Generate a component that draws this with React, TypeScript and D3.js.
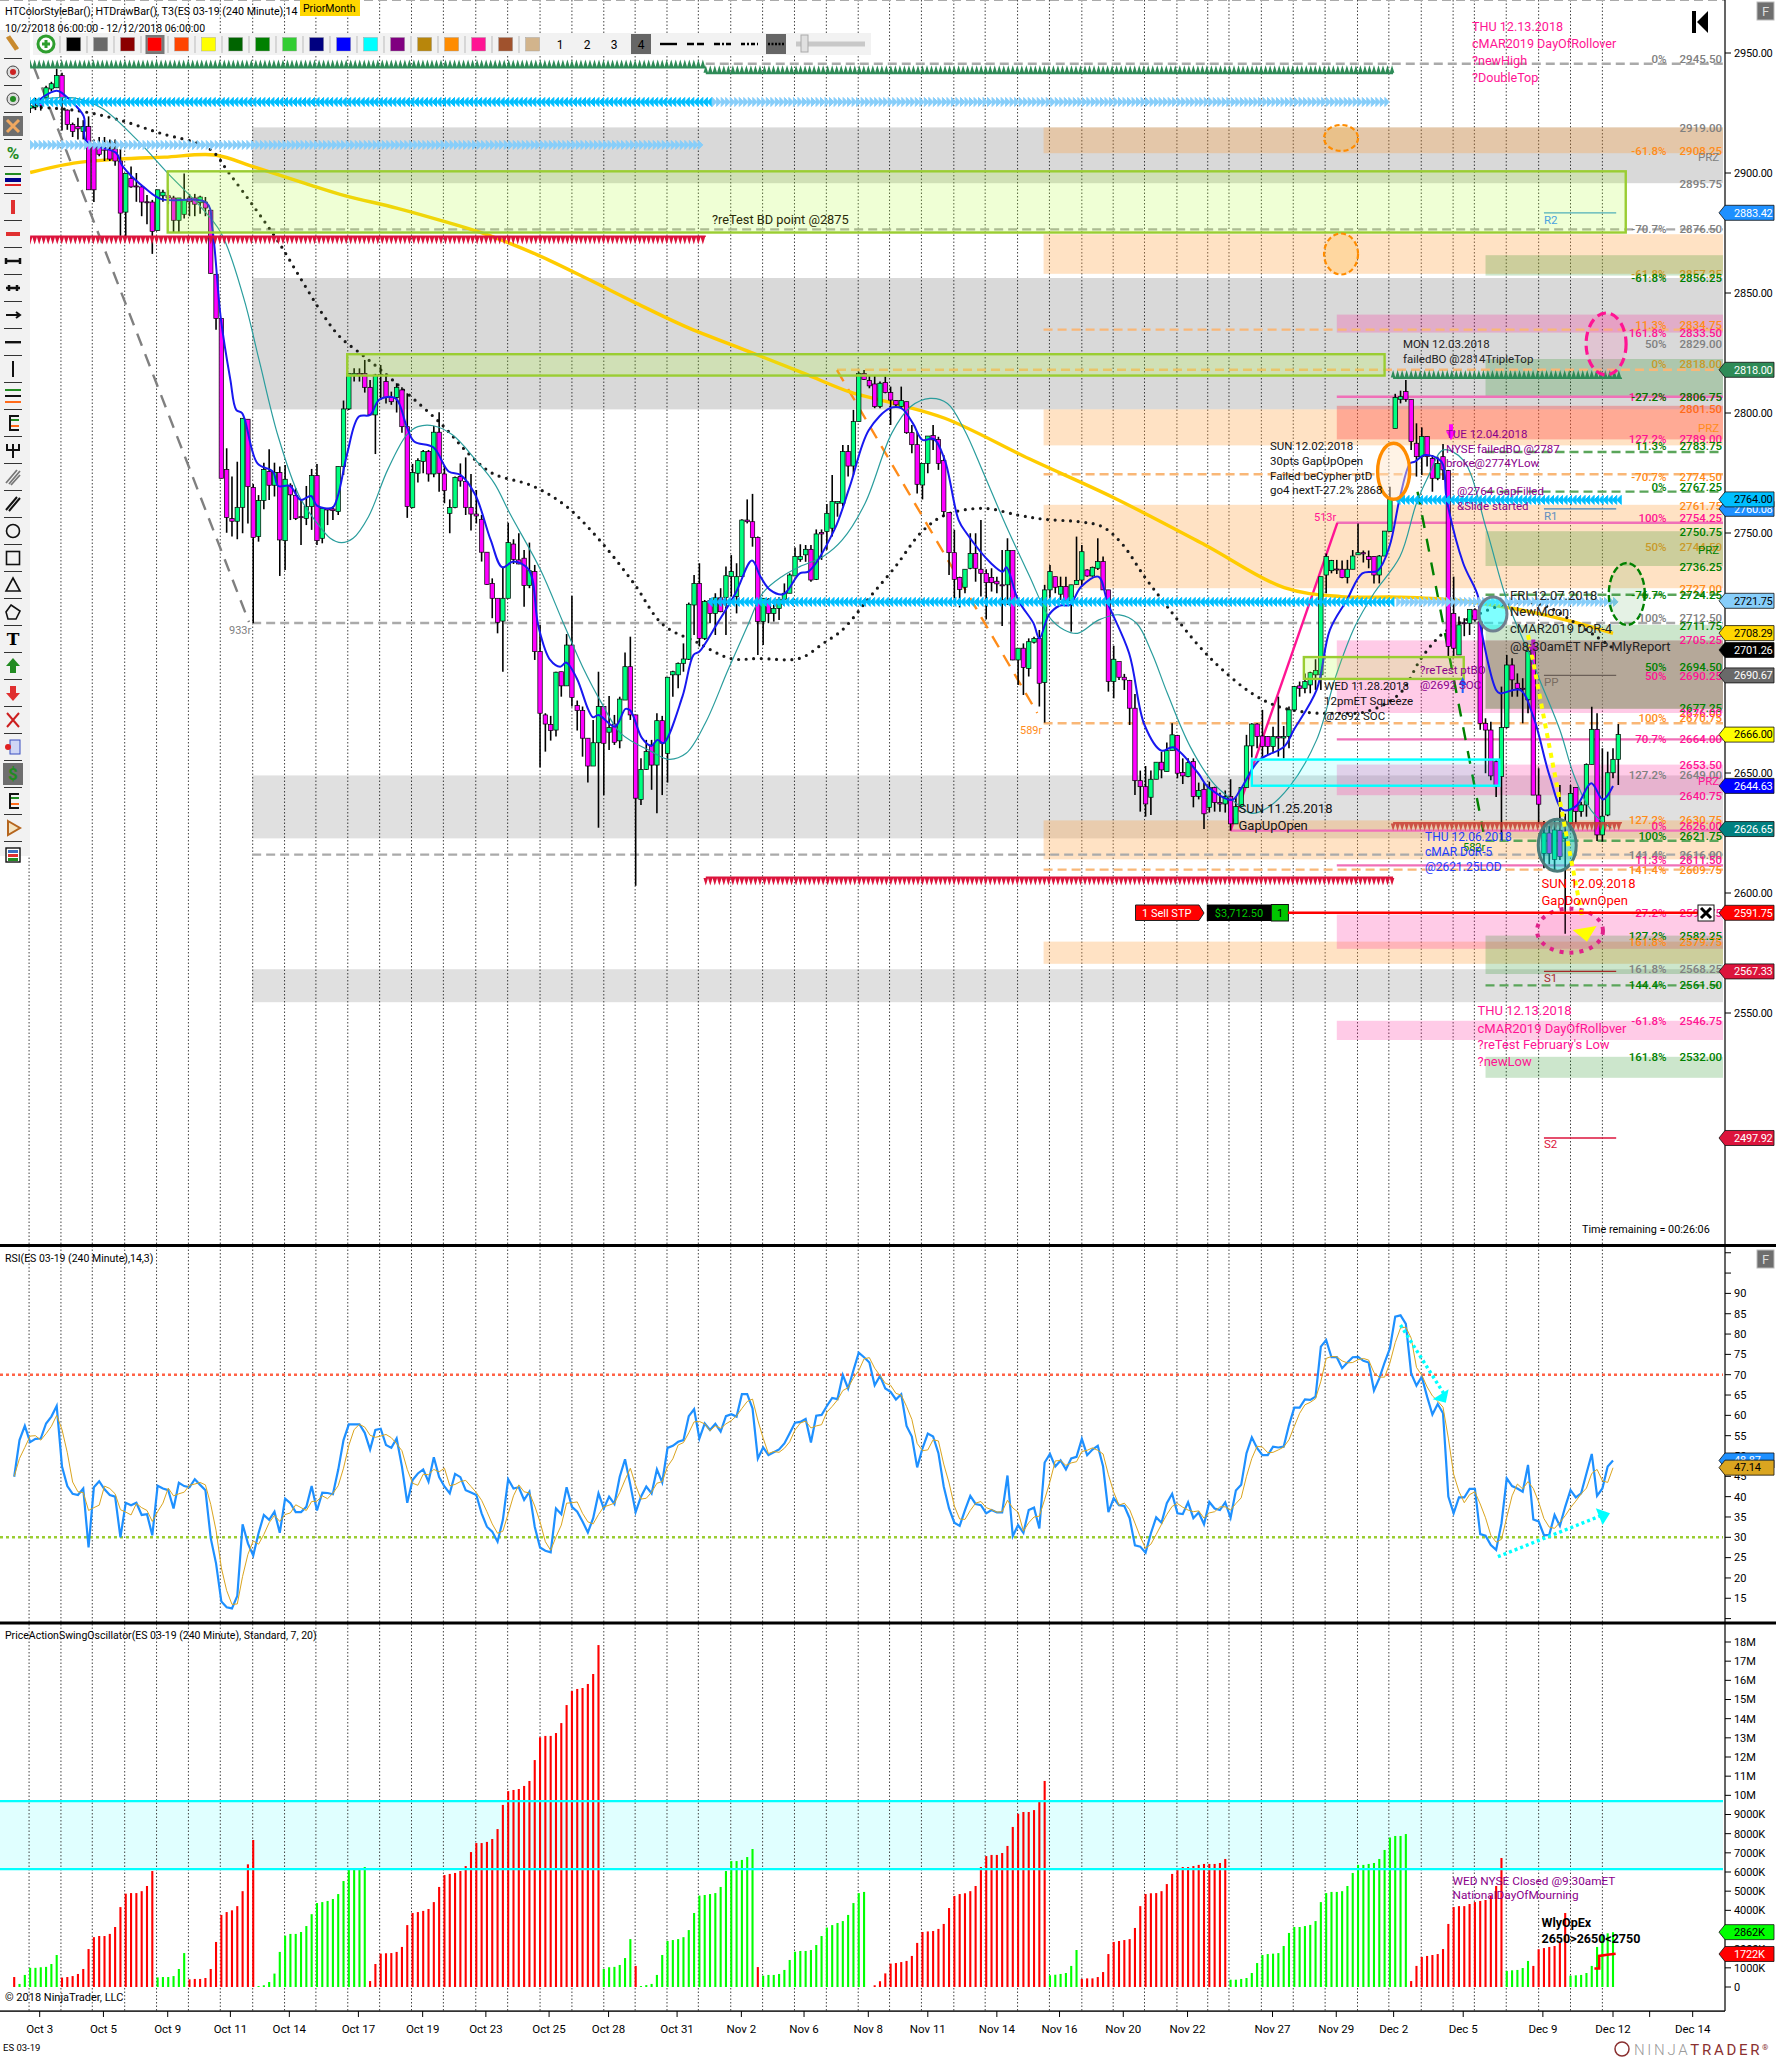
import * as d3 from 'd3';

// ES 03-19, 240 minute bars: [open, high, low, close]
const candlesOct: number[][] = [
  [2924, 2926, 2921, 2925], [2925, 2927, 2922, 2926], [2926, 2929, 2924, 2927], [2927, 2930, 2925, 2928],
  [2927.5, 2931.3, 2926.2, 2928.2], [2929, 2931, 2926, 2928], [2931.3, 2936.4, 2931, 2935.5], [2935, 2938, 2934, 2937.2],
  [2935.5, 2943.5, 2935.5, 2940.6], [2940.6, 2941.8, 2917.7, 2931.3], [2926.2, 2926.5, 2918, 2920.2], [2920.2, 2921, 2915, 2917.3],
  [2919.4, 2923, 2914, 2918.4], [2917.3, 2922, 2914, 2919.4], [2919.4, 2923.6, 2893, 2893], [2910.9, 2914, 2887.9, 2893],
  [2910.9, 2915, 2907, 2907.8], [2910.5, 2915, 2905, 2909.5], [2910, 2914, 2905, 2905.8], [2910, 2914, 2903, 2905],
  [2905, 2910, 2873.8, 2883.3], [2883.7, 2899.8, 2873.5, 2899.8], [2897.8, 2902.7, 2893.9, 2894.2], [2894.6, 2900, 2888, 2894.2],
  [2894.2, 2894.7, 2882, 2887.9], [2888, 2890.8, 2878.6, 2887.8], [2887.9, 2888.8, 2866.3, 2875.7], [2876, 2893, 2876, 2893],
  [2890.5, 2893, 2888, 2892], [2890.5, 2893, 2887, 2889.6], [2889.6, 2890.5, 2875, 2880.3], [2880.3, 2889.6, 2875, 2889.6],
  [2882.8, 2899.8, 2881, 2888.8], [2889.6, 2891.3, 2882, 2888], [2889.6, 2891.3, 2882, 2887], [2887.6, 2890.5, 2883, 2890],
  [2887.9, 2890, 2882, 2885.4], [2884.5, 2884.5, 2858, 2858.2], [2857.8, 2857.8, 2834.7, 2839.4], [2839.4, 2839.4, 2772.8, 2772.8],
  [2776.5, 2785.3, 2750.1, 2756.5], [2756, 2773.5, 2748.5, 2754.9], [2754.9, 2779.7, 2747.4, 2760.7], [2760.7, 2797.8, 2749.9, 2797.8],
  [2797.4, 2797.4, 2754, 2769.3], [2769, 2770.4, 2712.4, 2748.2], [2748.5, 2765.8, 2746.4, 2763.5], [2763.5, 2779.3, 2759.9, 2776.5],
  [2775.6, 2784.9, 2763.8, 2769.9], [2769.9, 2779.3, 2765.2, 2775.2], [2775.2, 2777.7, 2732.1, 2747.1], [2746.8, 2778.3, 2734.6, 2772.4],
  [2769.9, 2770.7, 2755.4, 2765.9], [2765.7, 2768.6, 2755.4, 2756.1], [2756.8, 2763.8, 2745, 2756.5], [2756.1, 2769.6, 2753.3, 2761],
  [2761, 2776.7, 2751.3, 2773.9], [2773.9, 2778.8, 2745, 2746.8], [2747.8, 2760.3, 2745.7, 2760.3], [2760.3, 2760.3, 2753.3, 2759.6],
  [2760, 2761, 2755.4, 2759.3], [2758.9, 2777.7, 2757.5, 2777.7], [2777.7, 2805.2, 2774.2, 2801.7], [2801.7, 2816.5, 2801.3, 2816.5],
  [2815.8, 2818.6, 2813.1, 2816.5], [2816.5, 2818.6, 2813.1, 2815.8], [2816.5, 2822.1, 2808.5, 2810.7], [2810.7, 2813.8, 2799.2, 2799.2],
  [2799.2, 2816.3, 2782.9, 2815.8], [2816, 2820, 2805.4, 2815.8], [2813.1, 2816.5, 2804, 2806.5], [2806.5, 2808.9, 2803.4, 2804.7],
  [2806.5, 2812.4, 2800.2, 2810.7], [2809.6, 2810.7, 2791.8, 2794.3], [2794.3, 2808.2, 2756.3, 2761], [2760.6, 2778.8, 2760.3, 2775.2],
  [2774.9, 2781.1, 2771, 2780.2], [2779.8, 2784.6, 2774.9, 2783.9], [2783.9, 2784.6, 2771.4, 2774.6], [2774.6, 2794.6, 2773.2, 2792],
  [2792, 2800.3, 2767.2, 2774.9], [2774.6, 2777.7, 2762.4, 2767.7], [2758.2, 2764, 2749.9, 2760.6], [2760.6, 2773.5, 2760.3, 2773.2],
  [2773.5, 2779, 2769.3, 2771.7], [2771.4, 2781.5, 2757.5, 2760.7], [2760.7, 2774.6, 2751, 2757.9], [2757.9, 2767.9, 2754, 2757.1],
  [2755.7, 2757.5, 2738.1, 2742], [2742, 2742, 2728.4, 2728.6], [2729, 2731.1, 2714.5, 2722.8], [2722.8, 2722.8, 2708.2, 2712.8],
  [2713.3, 2736, 2692.2, 2722.8], [2722.8, 2754.3, 2722.8, 2746], [2745.4, 2747.4, 2737.1, 2739], [2738.8, 2749.9, 2737, 2737.1],
  [2739.5, 2742.9, 2719.3, 2728.1], [2728.1, 2746, 2727, 2734.3], [2733.9, 2736.7, 2697.1, 2700.6], [2700.6, 2711.7, 2652.4, 2674.9],
  [2674.2, 2674.9, 2658.9, 2670.4], [2670.2, 2673.8, 2663.5, 2667.7], [2667.9, 2692.2, 2665.2, 2692], [2692.2, 2692.2, 2681.8, 2686.3],
  [2686.3, 2707.9, 2686.3, 2703.3], [2703.3, 2723.8, 2677.7, 2681.5], [2678.1, 2680.2, 2667.7, 2676], [2676, 2677.7, 2656.8, 2664.5],
  [2664.5, 2664.5, 2646, 2652.9], [2652.9, 2672.1, 2652.9, 2662.6], [2662.6, 2692.2, 2627.2, 2677.7], [2677.7, 2677.7, 2640.8, 2662.4],
  [2667, 2682.1, 2659.6, 2668.9], [2670.4, 2674.2, 2661.7, 2662.8], [2663.4, 2681.8, 2660.3, 2680.8], [2680.4, 2700.2, 2680.4, 2694.3],
  [2694.3, 2706.8, 2672.1, 2674.2], [2674.2, 2674.2, 2603, 2639.5], [2639, 2656.1, 2636.7, 2651.5], [2651.5, 2663.8, 2651.3, 2658.9],
  [2661.7, 2663.8, 2643, 2653.3], [2653.3, 2674.9, 2633.2, 2671.8], [2671.8, 2673.8, 2640.8, 2662.4], [2658.2, 2689.9, 2646, 2689.9],
  [2690.9, 2692.6, 2681.8, 2692.2], [2690.9, 2696, 2685.3, 2695.7], [2695.7, 2704, 2692.2, 2697.5], [2697.4, 2721, 2697.1, 2720.3],
];

const candlesNov: number[][] = [
  [2720, 2732.5, 2707.5, 2729], [2729, 2737.4, 2702.7, 2706.1], [2706.1, 2722.1, 2705.4, 2721.4], [2721.8, 2722.8, 2712.4, 2716.5],
  [2716.5, 2724.9, 2707.5, 2723], [2723, 2727, 2717, 2717.2], [2723.2, 2736, 2707.5, 2732.2], [2731.8, 2740.8, 2723.5, 2733.9],
  [2723.5, 2737.4, 2716.5, 2731.8], [2731.8, 2755.7, 2731.8, 2755.4], [2755.4, 2764, 2754, 2754.7], [2754.7, 2766.3, 2744.3, 2748.1],
  [2748.1, 2748.5, 2699.2, 2713.1], [2713.1, 2722.8, 2703.3, 2722.8], [2722.4, 2722.8, 2712.4, 2716.5], [2716.5, 2720, 2713.1, 2718.6],
  [2718.6, 2723.2, 2713.8, 2722.4], [2722.4, 2729, 2722.4, 2724.9], [2724.9, 2733.2, 2724.9, 2732.5], [2732.1, 2744, 2732.1, 2740.2],
  [2739, 2745.3, 2738, 2740.2], [2740.9, 2745, 2738, 2743.2], [2743.2, 2745, 2729.7, 2730.4], [2730.7, 2751.5, 2730.4, 2749.6],
  [2750.2, 2751.5, 2738.8, 2749.6], [2750.6, 2762.1, 2743, 2758.2], [2752, 2774.2, 2748.5, 2763.1], [2762.4, 2763.1, 2756.8, 2763.1],
  [2762.4, 2786.7, 2761, 2783.9], [2783.9, 2786.7, 2773.5, 2777.9], [2777.9, 2801.3, 2774.2, 2796.4], [2796.4, 2817.2, 2796.4, 2816.5],
  [2816.5, 2817.9, 2813.8, 2814], [2813.5, 2815.8, 2810.3, 2811.3], [2812.1, 2815.8, 2802, 2802.7], [2802.7, 2813.1, 2802, 2812.4],
  [2812.7, 2815.2, 2808.2, 2808.5], [2808.5, 2811, 2795, 2805.4], [2805.2, 2805.4, 2802.7, 2803.4], [2802.7, 2811, 2802, 2805.2],
  [2804.7, 2804.7, 2791.3, 2791.8], [2791.8, 2795, 2783.2, 2786.8], [2786.8, 2792.2, 2766.5, 2770.3], [2770, 2779, 2764, 2779],
  [2779, 2790.4, 2774.9, 2790.4], [2790.6, 2795, 2784.6, 2788.8], [2789, 2790.1, 2776.3, 2779], [2780.2, 2782.5, 2756.8, 2758.9],
  [2758.5, 2758.5, 2732.5, 2741.8], [2741.8, 2751.3, 2722.8, 2730.7], [2731.5, 2731.8, 2719, 2726.5], [2727.4, 2734.9, 2724.9, 2734.9],
  [2735.3, 2749.9, 2734.9, 2741.5], [2741.5, 2749.9, 2729.7, 2735.3], [2734.9, 2755.4, 2723.5, 2733.2], [2733.2, 2734.9, 2714, 2729.3],
  [2731.5, 2735.3, 2725.6, 2729.3], [2729.9, 2731.8, 2724.9, 2728.8], [2728.4, 2742.9, 2711.3, 2728], [2728.4, 2747.8, 2720, 2742.7],
  [2742.7, 2742.7, 2697, 2697.1], [2697.1, 2702, 2686.7, 2702], [2702, 2704, 2682.5, 2694], [2693.6, 2706.1, 2690.2, 2704.7],
  [2704.5, 2706.8, 2704, 2706.1], [2706.1, 2709.6, 2677.7, 2687.4], [2687.7, 2728.4, 2671, 2726.3], [2726.3, 2736.7, 2722.8, 2733.9],
  [2731.8, 2731.8, 2724.9, 2727.4], [2724.5, 2731.8, 2722.1, 2727.7], [2727.7, 2731.8, 2721.4, 2721.8], [2721.8, 2728.4, 2708.9, 2728.4],
  [2728.6, 2748.5, 2728.6, 2730.2], [2730.4, 2745, 2727.7, 2742.2], [2734.6, 2734.9, 2731.8, 2732.1], [2732.1, 2736, 2731.8, 2735.7],
  [2735.3, 2747.8, 2734.6, 2738.1], [2738.1, 2740.2, 2726.3, 2726.3], [2726.3, 2726.3, 2683.9, 2688.1], [2688.1, 2703, 2681.1, 2697.4],
  [2696.4, 2696.4, 2688.8, 2689.9], [2689.9, 2691.3, 2684.6, 2688.8], [2688.5, 2688.8, 2670, 2677], [2677, 2682.9, 2640.8, 2646.8],
  [2646.8, 2651, 2633.9, 2644.3], [2644.3, 2652.9, 2631.8, 2637.1], [2639.9, 2651, 2632.5, 2647.4], [2647.4, 2654.5, 2647.4, 2654.5],
  [2654.5, 2658.9, 2647.8, 2651.3], [2650.6, 2662.7, 2650.6, 2659.3], [2659.3, 2670.7, 2659.3, 2665.9], [2665.6, 2665.9, 2647.8, 2649.9],
  [2650.2, 2656.1, 2645.4, 2648.8], [2648.5, 2656.1, 2648.2, 2654.3], [2654.8, 2656.1, 2635.7, 2640.2], [2640.2, 2646, 2639, 2642.7],
  [2643.2, 2646, 2626.7, 2633], [2635.7, 2646.4, 2633.5, 2644], [2644, 2644.3, 2633.9, 2637.7], [2637.7, 2641.8, 2633.9, 2637.1],
  [2637.1, 2642.7, 2633.5, 2640.2], [2640.2, 2647.4, 2626, 2628.8],
];

const candlesDec: number[][] = [
  [2628.8, 2640.2, 2628.8, 2636], [2636, 2643.9, 2636, 2643.9], [2643.9, 2665.9, 2643.9, 2661.3], [2661.3, 2670.7, 2656.5, 2670.4],
  [2670.4, 2670.7, 2660.3, 2665.2], [2665.4, 2676.3, 2656.8, 2661], [2665.2, 2665.4, 2657.5, 2661], [2661, 2669.3, 2658.2, 2665.2],
  [2665.2, 2681.8, 2656.8, 2664.6], [2664.6, 2669.6, 2656.1, 2665.2], [2665.2, 2677.7, 2660.3, 2676.3], [2676.3, 2686.3, 2676, 2686],
  [2686.3, 2688.1, 2681.8, 2685.3], [2685.3, 2691.5, 2683.2, 2688.1], [2686.7, 2692.2, 2683.2, 2691.8], [2690.9, 2697.4, 2684.6, 2692.7],
  [2690.9, 2731.8, 2684.6, 2731.8], [2732.5, 2741.5, 2724.9, 2740.2], [2734.3, 2738.8, 2733.2, 2738.5], [2735, 2738.8, 2732.9, 2734.7],
  [2734.9, 2738.5, 2731.1, 2731.5], [2731.5, 2738.8, 2729, 2734.9], [2734.9, 2742.9, 2734.9, 2740.4], [2740.9, 2754, 2740.8, 2741.8],
  [2741.8, 2742.7, 2737.7, 2741.3], [2740.2, 2742.7, 2735.3, 2739], [2740.2, 2740.2, 2729, 2732.5], [2732.5, 2740.8, 2729, 2740.4],
  [2740.4, 2750.8, 2740.4, 2750.8], [2750.6, 2769.3, 2750.6, 2764], [2793.6, 2808, 2793.6, 2806.5], [2805.7, 2809.3, 2804, 2806.8],
  [2808.9, 2813.8, 2804.7, 2805.7], [2805.7, 2805.7, 2784.6, 2788.1], [2787.4, 2795.7, 2773.5, 2781.8], [2781.8, 2794, 2774.2, 2790.2],
  [2790.2, 2790.2, 2777.7, 2781.8], [2781.1, 2782.5, 2767.2, 2772.8], [2772.8, 2781.8, 2772, 2779], [2781.8, 2787.1, 2772.1, 2776.3],
  [2776, 2776.3, 2698.5, 2702.7], [2716.5, 2731.8, 2698.5, 2702], [2699.2, 2715.2, 2699.2, 2711.7], [2712.6, 2714.5, 2707, 2712.4],
  [2712.4, 2718.2, 2707.5, 2718.2], [2718, 2718.6, 2713, 2713.8], [2713, 2713, 2668, 2670.7], [2670.7, 2672.8, 2649.9, 2667.9],
  [2667.9, 2671.4, 2647, 2648.8], [2654.7, 2655.4, 2640, 2644.3], [2648.5, 2686, 2622, 2668.9], [2669, 2699.2, 2668.6, 2695],
  [2695, 2697.8, 2681.8, 2688.8], [2687.4, 2691.5, 2681.8, 2685.3], [2685.3, 2689.5, 2670.7, 2684.9], [2680.5, 2702.7, 2674.9, 2700.6],
  [2700.6, 2705, 2640.8, 2640.8], [2640.8, 2652, 2629, 2637], [2616.5, 2630, 2610.3, 2625], [2625, 2628, 2612, 2616.5],
  [2614, 2631, 2609.6, 2626.25], [2626, 2645, 2613.75, 2615.2], [2622.7, 2633, 2583, 2625], [2629, 2645, 2626, 2641.5],
  [2644, 2644, 2629, 2634], [2634, 2638, 2631.8, 2636.7], [2636.7, 2654, 2631.8, 2653.6], [2653.6, 2677.6, 2653.6, 2668.2],
  [2668.2, 2674.9, 2621.7, 2624.2], [2624.2, 2660.3, 2621.4, 2632], [2632.5, 2658.9, 2632, 2650.1], [2650.1, 2660.3, 2647.8, 2655.7],
  [2655.7, 2670.4, 2645, 2666.1],
];

const rsiValues = [
  44.9, 53.9, 57.4, 53.4, 54.2, 54.3, 58, 59.7, 62.3, 47.4, 42.6, 40.7, 40.4, 42, 27.5, 42.3, 43.8, 41.8, 40.4, 40,
  30, 38.5, 37.9, 38.5, 35.5, 35.7, 30.5, 42.7, 42, 41.6, 37.1, 43.4, 42.6, 42.3, 44.3, 42.9, 41.6, 29.8, 23.6, 14.2,
  12.8, 12.5, 15.6, 33.2, 28.5, 25.5, 31, 35.5, 34.3, 36.3, 31.1, 39.5, 38.4, 36.2, 36.2, 37.5, 42.6, 36.6, 41, 40.9,
  40.6, 46.6, 53.9, 57.8, 57.8, 57.8, 55.7, 51.6, 56.4, 56.7, 52.7, 52, 54.3, 47.4, 38.5, 44.1, 45.7, 46.7, 43.7, 49.7,
  44.8, 42.5, 40.8, 45.6, 44.8, 41.6, 41, 40.4, 35.9, 32.6, 31.4, 28.9, 34.3, 44.3, 42, 42.3, 39.2, 41.2, 32.6, 27.5,
  26.7, 26.3, 37.1, 35.7, 42.3, 37.5, 36.3, 33.9, 31.2, 34.7, 40.8, 37.1, 40, 38.2, 44.9, 49.2, 42.9, 36.2, 40, 42.5,
  40.8, 46.7, 43.5, 52, 52.5, 53.5, 53.9, 59.8, 61.5, 54.3, 58, 56.4, 57.9, 56, 59.8, 60.3, 59.7, 65.2, 65.2, 61.7,
  49.4, 52.1, 50.2, 50.9, 51.6, 53.1, 55.6, 58.2, 58.4, 59.1, 53.3, 59.9, 60.1, 62.3, 64.3, 64, 69.9, 66.6, 71.1, 75.4,
  74.3, 73, 67.4, 69.7, 66.6,
  65.8, 63.9, 65.2, 57.4, 54.8, 47.2, 51.9, 55.5, 54.8, 50.7, 42.5, 37.1, 33.6, 32.8, 36.7, 40.2, 38.2, 37.9, 35.9, 36.7,
  36.1, 36.1, 45.2, 30.3, 33, 31.1, 36.7, 37.3, 32.2, 48.4, 50.5, 47.4, 48.9, 46.7, 49.4, 49.8, 54.2, 50.2, 51.6, 52.5,
  47.4, 36.2, 39.6, 37.9, 37.7, 34.7, 28, 27.7, 26.2, 31, 34.9, 33.6, 38.4, 40.7, 35.9, 35.7, 38.6, 34.7, 36.1, 33.2,
  38.7, 37.1, 36.7, 38.6, 34.8, 41.5, 42.9, 50.7, 54.6, 51.9, 50.2, 50.2, 52.3, 52.1, 52.3, 57.6, 61.9, 61.9, 63.9, 63.8,
  64.6, 76.9, 78.5, 74.3, 74.3, 71.6, 73, 74.3, 74.4, 73.4, 73, 66.1, 69.1, 73, 76.5, 84.3, 84.6, 82.5, 70.3, 67.3,
  69.5, 64.6, 60.2, 62.8, 60.5, 40, 35.9, 39.8, 39.8, 41.9, 41.9, 30.8, 30.4, 28.1, 26.9, 33.4, 44.5, 42.6, 42, 41.2,
  47.8, 34.4, 33.9, 30.5, 30.6, 35.5, 32.8, 37.5, 41.6, 39.8, 40.8, 45.7, 50.5, 40.2, 42, 47.4, 48.9,
];

const rsiSignal = [
  45, 49.4, 52.1, 54.9, 55, 53.9, 55.5, 57.3, 60, 56.5, 50.8, 43.6, 41.2, 41, 36.6, 37.3, 37.9, 42.6, 42, 40.7,
  36.8, 36.2, 35.5, 38.3, 37.3, 36.6, 33.9, 36.3, 38.4, 42.1, 40.2, 40.7, 41.1, 42.8, 43.1, 43.5, 42.9, 38.1, 31.7, 22.5,
  16.9, 13.5, 13.6, 20.4, 25.8, 29.1, 28.3, 30.7, 33.6, 35.4, 33.9, 35.6, 36, 38, 37.3, 36.6, 38.8, 38.9, 40.2, 39.5,
  40.8, 42.7, 47, 52.6, 56.5, 57.8, 57.1, 55.1, 54.6, 54.9, 55.3, 54.5, 53, 51.3, 46.7, 43.3, 42.8, 45.5, 45.4, 46.7,
  46.1, 47, 42.7, 43, 43.7, 44, 42.5, 41, 39.1, 36.3, 33.3, 31, 31.5, 35.8, 40.2, 42.9, 41.2, 40.9, 37.7, 33.8,
  28.9, 26.8, 30.1, 33, 38.4, 38.5, 38.7, 35.9, 33.8, 33.3, 35.6, 37.5, 37.9, 38.4, 41, 44.1, 47, 42.8, 39.4, 39.6,
  41.1, 43.3, 43.7, 47.4, 49.3, 52.7, 53.3, 55.7, 58.4, 58.5, 57.9, 56.2, 57.4, 56.8, 57.9, 58.7, 59.9, 61.7, 63.4, 64,
  58.8, 54.4, 50.6, 51.1, 50.9, 51.9, 53.5, 56.4, 58.1, 58.6, 56.9, 57.4, 57.7, 60.8, 62.2, 63.8, 66.1, 66.8, 69.2, 71,
  73.9, 74.2, 71.6, 69.8, 67.9,
  67.4, 65.4, 65, 62.2, 59, 53.1, 51.3, 51.5, 54, 53.7, 48, 43.4, 37.7, 34.5, 34.4, 36.6, 38.4, 38.8, 37.3, 36.8,
  36.2, 36.3, 39.1, 37.2, 36.2, 31.5, 33.6, 35, 35.2, 39.3, 43.7, 48.8, 48.9, 47.7, 48.3, 48.6, 51.1, 51.4, 52, 51.4,
  50.5, 45.4, 41.1, 37.9, 38.4, 36.8, 33.5, 30.1, 27.3, 28.3, 30.7, 33.2, 35.6, 37.6, 38.3, 37.4, 36.7, 36.3, 36.5, 34.7,
  36, 36.3, 37.5, 37.5, 36.7, 38.3, 39.7, 45, 49.4, 52.4, 52.2, 50.8, 50.9, 51.5, 52.2, 54, 57.3, 60.5, 62.6, 63.2,
  64.1, 68.4, 74, 74.5, 74.4, 73.4, 72.9, 73, 73.7, 74, 73.6, 70.5, 69.4, 69.4, 72.9, 77.9, 81.5, 81.7, 79, 71.8,
  69.9, 67, 64.8, 63.5, 62, 54.4, 45.5, 41.3, 38.5, 40.5, 41.2, 38.2, 34.8, 30.5, 28.8, 29.5, 34.9, 40.2, 43.1, 41.9,
  43.7, 42, 38.7, 34.6, 32.5, 32.2, 33.7, 35.3, 37.3, 38.9, 40.7, 42.1, 45.7, 46.7, 43.9, 43.5, 47.1,
];

// swing oscillator in millions, positive = green bar, negative = red bar
const swingValues = [
  -0.52, 0.16, 0.63, 1, 1, 1.03, 1.05, 1.2, 1.67, -0.49, -0.52, -0.57, -0.68, -0.94, -1.98, -2.6, -2.66, -2.66, -2.77, -3.13,
  -4.17, -4.87, -4.9, -4.9, -5, -5.27, -6.05, 0.5, 0.52, 0.52, 0.57, 0.94, 1.77, -0.4, -0.42, -0.42, -0.47, -0.94, -2.35, -3.76,
  -3.91, -4, -4.22, -5, -6.4, -7.67, 0.05, 0.09, 0.26, 0.7, 1.83, 2.68, 2.77, 2.77, 2.87, 3.18, 3.8, 4.38, 4.43, 4.49,
  4.59, 4.85, 5.53, 6.16, 6.19, 6.2, 6.26, -0.31, -1.2, -1.74, -1.76, -1.77, -1.83, -2.09, -3.23, -3.86, -3.91, -3.97, -4.07, -4.43,
  -5.22, -5.84, -5.9, -5.95, -6.05, -6.31, -7.04, -7.51, -7.51, -7.57, -7.72, -8.24, -9.5, -10.22, -10.28, -10.33, -10.49, -10.75, -11.84, -13.03,
  -13.1, -13.1, -13.25, -13.77, -14.71, -15.44, -15.55, -15.6, -15.81, -16.33, -17.84, 0.94, 1.03, 1.05, 1.15, 1.51, 2.5, -1.1, 0.05, 0.1,
  0.16, 0.63, 1.67, 2.4, 2.45, 2.5, 2.6, 2.97, 3.86, 4.77, 4.8, 4.85, 4.9, 5.22, 6.05, 6.57, 6.57, 6.63, 6.78, 7.2,
  -1.04, 0.59, 0.63, 0.63, 0.68, 0.89, 1.41, 1.84, 1.88, 1.88, 1.93, 2.19, 2.66, 3.1, 3.23, 3.34, 3.44, 3.76, 4.38, 4.9,
  4.96, 0, -0.09, -0.3, -0.71,
  -1.22, -1.25, -1.3, -1.36, -1.62, -2.3, -2.87, -2.9, -2.92, -3.03, -3.29, -4.12, -4.75, -4.85, -4.89, -5, -5.27, -6.26, -6.83, -6.89,
  -6.89, -6.99, -7.36, -8.35, -9.04, -9.13, -9.13, -9.23, -9.67, -10.75, 0.61, 0.64, 0.68, 0.73, 1.1, 1.93, -0.42, -0.45, -0.45, -0.52,
  -0.78, -1.72, -2.35, -2.4, -2.45, -2.5, -3.08, -4.22, -4.85, -4.89, -4.9, -5, -5.37, -5.9, -6.1, -6.26, -6.26, -6.31, -6.37, -6.42,
  -6.42, -6.42, -6.47, -6.68, 0.38, 0.38, 0.42, 0.47, 0.73, 1.25, 1.67, 1.72, 1.74, 1.77, 2.14, 2.82, 3.13, 3.13, 3.18, 3.24,
  3.44, 4.43, 4.9, 4.96, 4.96, 5, 5.27, 5.95, 6.37, 6.37, 6.42, 6.47, 6.68, 7.15, 7.8, 7.88, 7.88, 7.98, -0.31, -1.1,
  -1.57, -1.62, -1.67, -1.72, -1.98, -3.29, -4.17, -4.22, -4.22, -4.33, -4.43, -4.49, -4.54, -4.75, -5.27, -6.73, 0.84, 0.87, 0.89, 0.99,
  1.36, -1.1, -1.97, -2.03, -2.09, -2.14, -2.3, -3.86, 0.59, 0.61, 0.63, 0.73, 1.1, 2.09, 2.71, 2.8, 2.86,
];

// indicator vertices as [bar, price]
const t3Line: [number, number][] = [
  [3.7, 2928.7], [8, 2934.3], [10.7, 2929.9], [13.1, 2923.6], [13.5, 2913.4], [19.2, 2908.3], [20.3, 2903.2], [25, 2893], [27.7, 2889.1],
  [36.2, 2887.6], [37.3, 2876.9], [38.9, 2839.4], [40.7, 2813.8], [41.8, 2801.3], [42.9, 2799.9], [45.8, 2779], [48.7, 2775.6], [49.7, 2769.6],
  [51.9, 2769.6], [53.9, 2763.8], [55.9, 2765.4], [57, 2761.4], [59.9, 2760.6], [60.9, 2765.2], [62.7, 2783.2], [64.9, 2798.5], [67, 2799.2],
  [68.8, 2805.7], [71.8, 2806.1], [73.9, 2794.3], [75.3, 2788.1], [78.9, 2785.7], [81.8, 2775.6], [84, 2774.2], [86.8, 2765.9], [89.7, 2747.1],
  [91.9, 2735.7], [94, 2738.1], [96.9, 2734.6], [98.7, 2711], [100.9, 2697.1], [102.8, 2694.3], [103.9, 2696], [105.9, 2689.5], [108.1, 2676.3],
  [109, 2673.2], [110, 2674.2], [113.1, 2669.3], [115.1, 2676.7], [116, 2676], [118.2, 2664.5], [119.9, 2661.3], [121.1, 2663.8], [122.2, 2662.4],
  [125.8, 2681.8], [127.9, 2699.2], [129, 2700.6], [132.2, 2711.7], [135.8, 2724.9], [138.9, 2738.5], [140.5, 2731.8], [142.3, 2726.3], [144.8, 2724.5],
  [147.9, 2733.2], [149.5, 2733.9], [154.4, 2751.3], [157.3, 2769.3], [160.9, 2792.9], [164.9, 2802], [167, 2802], [169.2, 2795.7], [171, 2788.8],
  [173.1, 2789.2], [175.2, 2780.4], [177.8, 2755.4], [179.3, 2749.9], [183.9, 2737.4], [186.1, 2733.9], [186.8, 2735.7], [189, 2722.1], [191.9, 2712.4],
  [193, 2706.1], [194.8, 2715.9], [196.9, 2719.8], [198.7, 2720], [200.9, 2727.7], [204.1, 2731.8], [205.9, 2720.7], [209.9, 2699.9], [212.8, 2670],
  [216, 2659.3], [218.2, 2660.7], [222.9, 2649.9], [224.7, 2644.3], [229.3, 2638.8], [230.8, 2642.9], [234.4, 2655.4], [239.1, 2661], [240.9, 2667.9],
  [245.2, 2684.6], [247.7, 2709.6], [250.9, 2722.1], [253.8, 2733.2], [256.7, 2734.3], [258.9, 2744.3], [260.9, 2765], [262.8, 2779], [263.7, 2779.7],
  [265.6, 2782.5], [268.7, 2779.7], [269.7, 2763.8], [272.8, 2737.4], [275.6, 2723.5], [275.9, 2713.8], [279, 2684.6], [279.7, 2683.2], [283.5, 2684.6],
  [286, 2673.5], [289.1, 2648.5], [291.6, 2634.6], [294.1, 2636.3], [296.9, 2645.7], [299.1, 2639], [301, 2644.6],
];
const tealLine: [number, number][] = [
  [3.7, 2930.4], [11.2, 2931.3], [16.5, 2927], [22.9, 2914.3], [29.3, 2899], [34.6, 2887.1], [38.9, 2875.2], [43.2, 2848], [46.1, 2822.1],
  [49.7, 2790.2], [53.7, 2765.2], [56.6, 2755.4], [59.5, 2747.8], [61.6, 2746], [63.8, 2747.8], [66.7, 2756.8], [70.3, 2776.3], [73.9, 2790.9],
  [76, 2794.3], [78.9, 2794.7], [82.5, 2790.9], [86.9, 2780.4], [90.4, 2770.7], [93.3, 2758.2], [99.1, 2734.6], [103.4, 2712.4], [107, 2694.3],
  [110.6, 2679.1], [114.2, 2666.5], [120, 2658.9], [123.2, 2655.7], [126.5, 2658.2], [130.1, 2670.7], [134.4, 2693], [138, 2711], [140.9, 2724.9],
  [144.5, 2731.8], [147.9, 2736], [152.3, 2740.2], [155.9, 2747.1], [160.2, 2762.4], [165.2, 2791.5], [168.8, 2802.7], [172.4, 2806.1], [175.7, 2804],
  [178.9, 2792.9], [182.5, 2774.9], [186.8, 2752.7], [191.2, 2731.8], [194.8, 2715.2], [197.7, 2709.6], [200.2, 2708.2], [204.2, 2713.8], [208.1, 2715.9],
  [211.3, 2712.4], [214.2, 2699.9], [217.1, 2683.2], [221.4, 2661], [225.8, 2645.7], [229.3, 2638.8], [232.9, 2633.2], [235.8, 2635.3], [240.1, 2644.3],
  [245.2, 2663.8], [248.8, 2690.2], [252.4, 2711], [256, 2724.9], [260.9, 2740.2], [264, 2762.4], [266.5, 2774.9], [269, 2784.6], [272.8, 2780.4],
  [277.2, 2751.3], [281, 2722.1], [286, 2695.7], [287.2, 2688.75], [291, 2667.9], [293.5, 2649.9], [296, 2637.4], [297.9, 2631.8], [300.7, 2627],
];
const goldLine: [number, number][] = [
  [3, 2900.2], [11.2, 2904.1], [19.7, 2905.8], [28.3, 2906.6], [37.8, 2907.5], [45.3, 2902.4], [54.9, 2895.6], [62.4, 2890.5], [72, 2885.4], [81.6, 2879.4],
  [89, 2874.3], [98.6, 2865.8], [108.2, 2855.6], [116.7, 2846.2], [126.3, 2836.1], [138.1, 2825.8], [148.7, 2816.5], [157.3, 2808.8], [164.5, 2804.6],
  [175.2, 2797.8], [191.2, 2780.8], [207.1, 2764.6], [224.2, 2745], [239.1, 2727.2], [249.8, 2723.5], [260.4, 2723.3], [271.1, 2722.1], [281.8, 2718.7],
  [292.4, 2713.6], [301, 2708.2],
];
const dottedLine: [number, number][] = [
  [3.7, 2927.5], [11.2, 2926.2], [18.7, 2922.8], [27.2, 2916.8], [36.8, 2910], [40.5, 2899.8], [45.3, 2885.4], [49.6, 2871.8], [53.8, 2856.5], [58.1, 2841.1],
  [61.3, 2831.8], [65.6, 2824.1], [69.8, 2816.5], [74.1, 2808], [80.5, 2795.2], [85.8, 2782.5], [90.1, 2774.8], [97.5, 2769.7], [103.9, 2761.2], [110.3, 2746.8],
  [116.7, 2728.9], [122.1, 2711.9], [128.5, 2704.5], [134.9, 2697.7], [140.2, 2697.7], [147.9, 2697.8], [152.3, 2704], [155.9, 2709.6], [160.9, 2722.8],
  [165.9, 2736], [170.9, 2750.6], [175.3, 2757.5], [182.5, 2760.3], [188.9, 2757.5], [194, 2755.7], [200.5, 2754.7], [204.8, 2752.7], [208.5, 2745.7],
  [212.8, 2731.8], [217.1, 2719.3], [222.9, 2703.3], [227.2, 2693.6], [233, 2683.2], [238, 2677.7], [243.8, 2675.2], [248.8, 2674.9], [254.6, 2675.6],
  [260.9, 2683.2], [264.9, 2697.8], [269, 2708.2], [274.7, 2715.2], [281.6, 2720.7], [287.8, 2720], [293.5, 2713.1], [297.9, 2706.8], [301, 2702],
];

const sessionBars = [
  2.8, 8.8, 14.7, 20.8, 26.8, 32.8, 38.8, 44.9, 50.9, 56.8, 62.8, 68.8, 74.8, 80.8, 86.9, 92.9, 99, 105, 111, 116.9, 122.9, 128.8, 134.9, 140.9, 146.9, 152.9, 158.9,
  164.8, 170.8, 176.9, 182.8, 188.9, 194.9, 201, 206.9, 212.8, 218.9, 224.7, 228.7, 234.8, 240.8, 246.8, 252.9, 258.8, 264.9, 270.9, 274.9, 280.9, 287, 293, 299,
];
const dateLabels = ['Oct 3', 'Oct 5', 'Oct 9', 'Oct 11', 'Oct 14', 'Oct 17', 'Oct 19', 'Oct 23', 'Oct 25', 'Oct 28', 'Oct 31', 'Nov 2', 'Nov 6', 'Nov 8', 'Nov 11', 'Nov 14', 'Nov 16', 'Nov 20', 'Nov 22', 'Nov 27', 'Nov 29', 'Dec 2', 'Dec 5', 'Dec 9', 'Dec 12', '', 'Dec 14'];
const dateBars = [4.8, 16.8, 28.9, 40.7, 51.8, 64.8, 76.9, 88.8, 100.7, 111.9, 124.8, 136.9, 148.7, 160.8, 172, 185, 196.8, 208.8, 220.9, 236.9, 248.9, 259.7, 272.8, 287.8, 301, 307.9, 316];

const priceTicks = [2950, 2900, 2850, 2800, 2750, 2700, 2650, 2600, 2550];
const rsiTicks = [90, 85, 80, 75, 70, 65, 60, 55, 50, 45, 40, 35, 30, 25, 20, 15];
const swingTicks = [18, 17, 16, 15, 14, 13, 12, 11, 10, 9, 8, 7, 6, 5, 4, 3, 2, 1, 0];

// shaded zones: kind, first bar, top price, bottom price
const zones: [string, number, number, number][] = [
  ['gray', 44.8, 2919, 2895.75], ['gray', 44.8, 2856.25, 2801.5], ['lgray', 44.8, 2649, 2622.75], ['lgray', 44.8, 2568.25, 2554.5],
  ['orange', 193.8, 2919, 2908.25], ['orange', 193.8, 2874.5, 2858], ['orange', 193.8, 2801.5, 2786.5], ['orange', 193.8, 2761.75, 2727], ['orange', 193.8, 2630.25, 2614], ['orange', 193.8, 2579.75, 2570.5],
  ['pink', 249, 2841, 2833.5], ['red', 249, 2803, 2789], ['pink', 249, 2705.25, 2675], ['pink', 249, 2653.5, 2640.75], ['pink', 249, 2591, 2576.75], ['pink', 249, 2546.75, 2538.75],
  ['green', 277, 2865.75, 2857.25], ['green', 277, 2822.5, 2806.75], ['green', 277, 2750.75, 2736.25], ['green', 277, 2711.75, 2705.25], ['brown', 277, 2705.25, 2676.75], ['green', 277, 2582.25, 2566.25], ['green', 277, 2531.75, 2523],
];
const zoneFill: Record<string, string> = {
  gray: 'rgba(0,0,0,0.15)', lgray: 'rgba(0,0,0,0.12)', orange: 'rgba(255,160,60,0.3)', pink: 'rgba(255,20,147,0.22)',
  red: 'rgba(255,40,40,0.3)', green: 'rgba(0,128,0,0.2)', brown: 'rgba(120,140,90,0.55)',
};
// level lines: colour, dash, first bar, price
const levels: [string, string, number, number][] = [
  ['#aaaaaa', '9 5', 130.2, 2945.5], ['#aaaaaa', '9 5', 44.8, 2876.5], ['#aaaaaa', '9 5', 44.8, 2712.5], ['#aaaaaa', '9 5', 44.8, 2616],
  ['#f9b777', '9 5', 193.8, 2834.75], ['#f9b777', '9 5', 154.9, 2818], ['#f9b777', '9 5', 193.8, 2774.5], ['#f9b777', '9 5', 193.8, 2670.75], ['#f9b777', '9 5', 193.8, 2609.75],
  ['#5aa55a', '9 5', 277, 2783.75], ['#5aa55a', '9 5', 277, 2767.25], ['#5aa55a', '9 5', 277, 2724.25], ['#5aa55a', '9 5', 277, 2621.75], ['#5aa55a', '9 5', 277, 2561.5],
  ['#f070b8', '', 249, 2806.75], ['#f070b8', '', 249, 2754.25], ['#f070b8', '', 249, 2664], ['#f070b8', '', 229, 2626], ['#f070b8', '', 249, 2611.5],
];
// fib texts: percent, price, colour, nudge
const fibLabels: [string, string, string, number][] = [
  ['0%', '2945.50', '#808080', -5], ['', '2919.00', '#808080', 1], ['-61.8%', '2908.25', '#ff8c1a', -2], ['', '2895.75', '#808080', 1], ['-70.7%', '2876.50', '#808080', 0],
  ['-61.8%', '2857.25', '#c89a2a', -2], ['-61.8%', '2856.25', '#008000', 0], ['11.3%', '2834.75', '#ff8c1a', -5], ['161.8%', '2833.50', '#ff1493', 0], ['50%', '2829.00', '#808080', 1],
  ['0%', '2818.00', '#c89a2a', -6], ['127.2%', '2806.75', '#ff1493', 0], ['-27.2%', '2806.75', '#008000', 0], ['', '2801.50', '#ff6a1a', 0], ['127.2%', '2789.00', '#ff1493', 0],
  ['11.3%', '2783.75', '#008000', -6], ['-70.7%', '2774.50', '#ff8c1a', 3], ['0%', '2767.25', '#008000', -5], ['', '2761.75', '#ff8c1a', 1], ['100%', '2754.25', '#ff1493', -5],
  ['', '2750.75', '#008000', 1], ['50%', '2744.50', '#c89a2a', 1], ['', '2736.25', '#008000', 1], ['', '2727.00', '#ff8c1a', 1], ['-76.7%', '2724.25', '#008000', 0],
  ['100%', '2712.50', '#808080', -5], ['', '2711.75', '#008000', 1], ['', '2705.25', '#ff1493', 0], ['50%', '2694.50', '#008000', 1], ['50%', '2690.25', '#ff1493', 0],
  ['', '2677.25', '#008000', 0], ['', '2676.00', '#ff1493', 2], ['100%', '2670.75', '#ff8c1a', -5], ['70.7%', '2664.00', '#ff1493', 0], ['', '2653.50', '#ff1493', 0],
  ['127.2%', '2649.00', '#808080', 0], ['', '2640.75', '#ff1493', 1], ['127.2%', '2630.75', '#ff8c1a', 1], ['0%', '2626.00', '#ff1493', -5], ['100%', '2621.75', '#008000', -5],
  ['141.4%', '2616.00', '#808080', 0], ['11.3%', '2611.50', '#ff1493', -5], ['141.4%', '2609.75', '#ff8c1a', 0], ['-27.2%', '2591.75', '#ff1493', 0], ['127.2%', '2582.25', '#008000', 0],
  ['161.8%', '2579.75', '#ff8c1a', 0], ['161.8%', '2568.25', '#808080', 0], ['144.4%', '2561.50', '#008000', 0], ['-61.8%', '2546.75', '#ff1493', 0], ['161.8%', '2532.00', '#008000', 1],
];
// free notes: text, left px, middle px, colour, size
const notes: [string, number, number, string, number][] = [
  ['THU 12.13.2018', 1472, 27, '#ff1493', 12.6], ['cMAR2019 DayOfRollover', 1472, 44, '#ff1493', 12.6], ['?newHigh', 1472, 61, '#ff1493', 12.6], ['?DoubleTop', 1472, 78, '#ff1493', 12.6],
  ['?reTest BD point @2875', 712, 219.5, '#2a2a08', 12.8],
  ['MON 12.03.2018', 1403, 344, '#222222', 11.5], ['failedBO @2814TripleTop', 1403, 359, '#222222', 11.5],
  ['TUE 12.04.2018', 1446, 434, '#8b008b', 11.5], ['NYSE failedBO @2787', 1446, 449, '#8b008b', 11.5], ['broke@2774YLow', 1446, 463, '#8b008b', 11.5],
  ['@2764 GapFilled', 1457, 491, '#8b008b', 11.5], ['&Slide started', 1457, 506, '#8b008b', 11.5],
  ['SUN 12.02.2018', 1270, 446, '#111111', 11.5], ['30pts GapUpOpen', 1270, 461, '#111111', 11.5], ['Failed beCypher ptD', 1270, 475.5, '#111111', 11.5], ['go4 nextT-27.2% 2868', 1270, 490, '#111111', 11.5],
  ['513r', 1314, 517, '#ff1493', 11], ['933r', 229, 630, '#808080', 11], ['589r', 1020, 730, '#ff8c1a', 11], ['582r', 1463, 847, '#008000', 11],
  ['FRI 12.07.2018', 1510, 595, '#222222', 13], ['NewMoon', 1510, 611.5, '#222222', 13], ['cMAR2019 DoR-4', 1510, 628.5, '#222222', 13], ['@8:30amET NFP MlyReport', 1510, 646, '#222222', 13],
  ['?reTest ptBO', 1420, 670, '#8b008b', 11.5], ['@2692 SOC', 1420, 685, '#8b008b', 11.5],
  ['WED 11.28.2018', 1324, 686, '#111111', 11.5], ['12pmET Squeeze', 1324, 701, '#111111', 11.5], ['@2692 SOC', 1324, 715.5, '#111111', 11.5],
  ['SUN 11.25.2018', 1238.5, 808.5, '#111111', 13], ['GapUpOpen', 1238.5, 825.5, '#111111', 13],
  ['THU 12.06.2018', 1425, 837, '#1e3cff', 12], ['cMAR DoR-5', 1425, 852, '#1e3cff', 12], ['@2621.25LOD', 1425, 866.5, '#1e3cff', 12],
  ['SUN 12.09.2018', 1541.5, 883, '#ff0000', 13], ['GapDownOpen', 1541.5, 900, '#ff0000', 13],
  ['THU 12.13.2018', 1477.5, 1010.5, '#ff1493', 13], ['cMAR2019 DayOfRollover', 1477.5, 1028, '#ff1493', 13], ["?reTest February's Low", 1477.5, 1044.5, '#ff1493', 13], ['?newLow', 1477.5, 1061.5, '#ff1493', 13],
  ['Time remaining = 00:26:06', 1582, 1229, '#000000', 10.8],
  ['R2', 1544, 219.5, '#4aa3df', 11.5], ['R1', 1544, 515.5, '#5f8fc0', 11.5], ['PP', 1544, 682, '#7a6c62', 11.5], ['S1', 1544, 978, '#a52a2a', 11.5], ['S2', 1544, 1144, '#dc143c', 11.5],
  ['PRZ', 1698, 157, '#808080', 11.5], ['PRZ', 1698, 428, '#ff8c1a', 11.5], ['PRZ', 1698, 550, '#008000', 11.5], ['PRZ', 1698, 781, '#ff1493', 11.5],
  ['WED NYSE Closed @9:30amET', 1452.5, 1880.5, '#8b008b', 11.8], ['NationalDayOfMourning', 1452.5, 1895, '#8b008b', 11.8],
];
// pivots: price, colour
const pivots: [number, string][] = [[2883.42, '#3a9bdc'], [2760.08, '#4682b4'], [2690.67, '#6b5f58'], [2567.33, '#a52a2a'], [2497.92, '#dc143c']];
// price flags on the right scale
const priceFlags: [number, string, string][] = [
  [2883.42, '#1e90ff', '#fff'], [2818, '#2e8b57', '#fff'], [2760.08, '#1e90ff', '#fff'], [2764, '#00bfff', '#000'], [2721.75, '#87cefa', '#000'], [2708.29, '#ffd700', '#000'],
  [2701.26, '#000000', '#fff'], [2690.67, '#696969', '#fff'], [2666, '#ffff00', '#000'], [2644.63, '#0000ff', '#fff'], [2626.65, '#008080', '#fff'], [2591.75, '#ff0000', '#fff'], [2567.33, '#dc143c', '#fff'], [2497.92, '#dc143c', '#fff'],
];
const swatches = ['#000000', '#696969', '#8b0000', '#ff0000', '#ff4500', '#ffff00', '#006400', '#008000', '#32cd32', '#000080', '#0000ff', '#00ffff', '#800080', '#b8860b', '#ff8c00', '#ff1493', '#a0522d', '#d2b48c'];
const toolRows = ['eyeR', 'eyeG', 'cross', 'pct', 'bars', 'vbar', 'hbar', 'dbl', 'dbl2', 'arrow', 'dash', 'vline', 'tri3', 'fE', 'fork', 'hatch', 'diag', 'circle', 'square', 'triangle', 'penta', 'T', 'up', 'down', 'x', 'stat', 'dollar', 'fE2', 'pen', 'palette'];

const FONT = 'Roboto, "Liberation Sans", sans-serif';
const xBar = d3.scaleLinear().domain([0, 301]).range([14.2, 1613]);
const yPrice = d3.scaleLinear().domain([2950, 2550]).range([53, 1013]);
const yRsi = d3.scaleLinear().domain([70, 30]).range([1374.7, 1537.3]);
const ySwing = d3.scaleLinear().domain([0, 18]).range([1987, 1642]);
const PANEL_R = 1723;
const AXIS_X = 1725;

const smooth = d3.line<[number, number]>().x((d) => xBar(d[0])).y((d) => yPrice(d[1])).curve(d3.curveCatmullRom.alpha(0.5));
const rsiPath = d3.line<number>().x((_, i) => xBar(i)).y((d) => yRsi(d));

// little saw teeth for the swing levels
function teeth(from: number, to: number, price: number, dir: number) {
  const y = yPrice(price);
  return d3.range(from, to, 0.85).map((b) => {
    const x = xBar(b);
    return `M${x - 2.3},${y}L${x},${y + dir * 7.5}L${x + 2.3},${y}Z`;
  }).join('') + `M${xBar(from)},${y}H${xBar(to)}V${y - dir * 1.5}H${xBar(from)}Z`;
}
// arrow chains on the signal levels
function chain(from: number, to: number, price: number, dir: number) {
  const y = yPrice(price);
  return d3.range(from, to, 0.85).map((b) => {
    const x = xBar(b);
    return `M${x},${y - 4.5}L${x + dir * 4.5},${y}L${x},${y + 4.5}Z`;
  }).join('');
}

function Txt({ x, y, s, c = '#000', size = 11, anchor = 'start', weight = 400, font = FONT, spacing }: any) {
  return <text x={x} y={y} dy="0.35em" fill={c} fontSize={size} textAnchor={anchor} fontWeight={weight} fontFamily={font} letterSpacing={spacing}>{s}</text>;
}

function Flag({ y, text, fill, color }: { y: number; text: string; fill: string; color: string }) {
  return (
    <g>
      <polygon points={`${AXIS_X - 6},${y} ${AXIS_X},${y - 7.5} 1774,${y - 7.5} 1774,${y + 7.5} ${AXIS_X},${y + 7.5}`} fill={fill} stroke="#111" strokeWidth={0.8} />
      <Txt x={1734} y={y} s={text} c={color} size={11} spacing={-0.2} />
    </g>
  );
}

function Tool({ kind, y }: { kind: string; y: number }) {
  const x = 13;
  switch (kind) {
    case 'eyeR': return <g><circle cx={x} cy={y} r={6} fill="#dddddd" stroke="#444" /><circle cx={x} cy={y} r={3} fill="#cc2222" /></g>;
    case 'eyeG': return <g><circle cx={x} cy={y} r={6} fill="#dddddd" stroke="#444" /><circle cx={x} cy={y} r={3} fill="#228b22" /></g>;
    case 'cross': return <g><rect x={x - 10} y={y - 10} width={20} height={20} fill="#6e6e6e" /><path d={`M${x - 6},${y - 6}L${x + 6},${y + 6}M${x + 6},${y - 6}L${x - 6},${y + 6}`} stroke="#f0a860" strokeWidth={3} /></g>;
    case 'pct': return <text x={x} y={y + 6} textAnchor="middle" fontSize={17} fontWeight={700} fill="#228b22" fontFamily={FONT}>%</text>;
    case 'bars': return <g><rect x={x - 8} y={y - 7} width={16} height={2} fill="#228b22" /><rect x={x - 8} y={y - 2} width={16} height={4} fill="#00008b" /><rect x={x - 8} y={y + 4} width={16} height={2} fill="#e02020" /></g>;
    case 'vbar': return <rect x={x - 2} y={y - 7} width={4} height={14} fill="#e03030" />;
    case 'hbar': return <rect x={x - 7} y={y - 2} width={14} height={4} fill="#e03030" />;
    case 'dbl': return <path d={`M${x - 7},${y}H${x + 7}M${x - 7},${y - 3}V${y + 3}M${x + 7},${y - 3}V${y + 3}`} stroke="#111" strokeWidth={2.5} />;
    case 'dbl2': return <path d={`M${x - 7},${y}H${x + 7}M${x - 4},${y - 3}V${y + 3}M${x + 4},${y - 3}V${y + 3}`} stroke="#111" strokeWidth={2.5} />;
    case 'arrow': return <path d={`M${x - 7},${y}H${x + 6}M${x + 3},${y - 3}L${x + 7},${y}L${x + 3},${y + 3}`} stroke="#111" strokeWidth={2} fill="none" />;
    case 'dash': return <rect x={x - 8} y={y - 1} width={16} height={2.4} fill="#111" />;
    case 'vline': return <rect x={x - 1} y={y - 8} width={2} height={16} fill="#111" />;
    case 'tri3': return <g><rect x={x - 8} y={y - 7} width={16} height={2} fill="#228b22" /><rect x={x - 8} y={y - 1} width={16} height={2} fill="#111" /><rect x={x - 8} y={y + 5} width={16} height={2} fill="#ff6a1a" /></g>;
    case 'fE': case 'fE2': return <g><path d={`M${x + 6},${y - 7}H${x - 3}V${y + 7}H${x + 6}`} stroke="#111" strokeWidth={2} fill="none" /><rect x={x - 2} y={y - 4} width={8} height={2} fill="#228b22" /><rect x={x - 2} y={y + 2} width={8} height={2} fill="#ff6a1a" /></g>;
    case 'fork': return <path d={`M${x - 6},${y - 6}V${y}H${x + 6}V${y - 6}M${x},${y - 6}V${y + 8}`} stroke="#111" strokeWidth={2} fill="none" />;
    case 'hatch': return <path d={`M${x - 7},${y + 6}L${x + 4},${y - 7}M${x - 4},${y + 7}L${x + 7},${y - 6}M${x - 2},${y + 8}L${x + 7},${y - 2}`} stroke="#777" strokeWidth={1.8} />;
    case 'diag': return <path d={`M${x - 7},${y + 6}L${x + 4},${y - 7}M${x - 4},${y + 7}L${x + 7},${y - 6}`} stroke="#111" strokeWidth={2} />;
    case 'circle': return <circle cx={x} cy={y} r={6.5} fill="none" stroke="#111" strokeWidth={1.6} />;
    case 'square': return <rect x={x - 6.5} y={y - 6.5} width={13} height={13} fill="none" stroke="#111" strokeWidth={1.6} />;
    case 'triangle': return <path d={`M${x},${y - 7}L${x + 7},${y + 6}H${x - 7}Z`} fill="none" stroke="#111" strokeWidth={1.6} />;
    case 'penta': return <path d={`M${x - 2},${y - 7}L${x + 7},${y - 1}L${x + 3},${y + 7}H${x - 5}L${x - 7},${y}Z`} fill="none" stroke="#111" strokeWidth={1.6} />;
    case 'T': return <text x={x} y={y + 6} textAnchor="middle" fontSize={17} fontWeight={700} fontFamily="DejaVu Serif">T</text>;
    case 'up': return <path d={`M${x},${y - 8}L${x + 7},${y}H${x + 3}V${y + 7}H${x - 3}V${y}H${x - 7}Z`} fill="#228b22" />;
    case 'down': return <path d={`M${x},${y + 8}L${x + 7},${y}H${x + 3}V${y - 7}H${x - 3}V${y}H${x - 7}Z`} fill="#e03030" />;
    case 'x': return <path d={`M${x - 6},${y - 7}L${x + 6},${y + 7}M${x + 6},${y - 7}L${x - 6},${y + 7}`} stroke="#cc1f1f" strokeWidth={2} />;
    case 'stat': return <g><rect x={x - 3} y={y - 7} width={10} height={14} fill="#cfd6f5" stroke="#3a4fc0" /><circle cx={x - 5} cy={y} r={3} fill="#e02020" /></g>;
    case 'dollar': return <g><rect x={x - 10} y={y - 11} width={20} height={22} fill="#6e6e6e" /><text x={x} y={y + 6} textAnchor="middle" fontSize={17} fontWeight={700} fill="#228b22" fontFamily={FONT}>$</text></g>;
    case 'pen': return <path d={`M${x - 5},${y - 7}L${x + 7},${y}L${x - 5},${y + 7}Z`} fill="#f4e3c0" stroke="#b5651d" strokeWidth={2} />;
    case 'palette': return <g><rect x={x - 7} y={y - 7} width={14} height={14} fill="#fff" stroke="#111" strokeWidth={1.4} /><rect x={x - 5} y={y - 5} width={10} height={3} fill="#3a6fc0" /><rect x={x - 5} y={y - 1} width={10} height={3} fill="#e03030" /><rect x={x - 5} y={y + 3} width={10} height={3} fill="#228b22" /></g>;
    default: return null;
  }
}

export default function App() {
  const candles = [...candlesOct, ...candlesNov, ...candlesDec];
  const right = xBar.invert(PANEL_R);
  const ell = (bar: number, price: number, rx: number, ry: number, props: any) => <ellipse cx={xBar(bar)} cy={yPrice(price)} rx={rx} ry={ry} {...props} />;
  const box = (b0: number, b1: number, p0: number, p1: number, fill: string, stroke: string) => (
    <rect x={xBar(b0)} y={yPrice(p0)} width={xBar(b1) - xBar(b0)} height={yPrice(p1) - yPrice(p0)} fill={fill} stroke={stroke} strokeWidth={2.4} />
  );
  const seg = (b0: number, p0: number, b1: number, p1: number, props: any) => <line x1={xBar(b0)} y1={yPrice(p0)} x2={xBar(b1)} y2={yPrice(p1)} {...props} />;
  return (
    <svg width={1776} height={2058} viewBox="0 0 1776 2058" style={{ position: 'absolute', left: 0, top: 0, background: '#fff' }}>
      <defs>
        <clipPath id="mainClip"><rect x={0} y={0} width={PANEL_R} height={1245} /></clipPath>
      </defs>
      <rect x={0} y={0} width={1776} height={2058} fill="#fff" />

      {/* swing band sits under the grid */}
      <rect x={0} y={ySwing(9.7)} width={PANEL_R} height={ySwing(6.15) - ySwing(9.7)} fill="#e0ffff" />

      {/* session grid */}
      {sessionBars.map((b) => (
        <line key={b} x1={xBar(b)} x2={xBar(b)} y1={0} y2={2011} stroke="#444" strokeWidth={1} strokeDasharray="1.5 2" />
      ))}
      <line x1={0} x2={AXIS_X} y1={0.5} y2={0.5} stroke="#aaa" strokeDasharray="9 5" />

      <g clipPath="url(#mainClip)">
        {zones.map(([kind, b, top, bottom], i) => (
          <rect key={i} x={xBar(b)} y={yPrice(top)} width={xBar(right) - xBar(b)} height={yPrice(bottom) - yPrice(top)} fill={zoneFill[kind]} />
        ))}
        {levels.map(([c, dash, b, p], i) => seg(b, p, right, p, { key: i, stroke: c, strokeWidth: 2.4, strokeDasharray: dash || undefined }))}
        {pivots.map(([p, c], i) => seg(288, p, 301.6, p, { key: i, stroke: c, strokeWidth: 1.3 }))}

        {seg(3.7, 2944.2, 44.2, 2712.9, { stroke: '#808080', strokeWidth: 2.4, strokeDasharray: '13 9' })}
        {seg(154.9, 2817.9, 192.6, 2675, { stroke: '#ff8c1a', strokeWidth: 2.4, strokeDasharray: '13 9' })}
        {seg(229, 2626, 249.1, 2754.25, { stroke: '#ff1493', strokeWidth: 2.4 })}
        {seg(264.2, 2767.2, 276.6, 2625.5, { stroke: '#008000', strokeWidth: 2.4, strokeDasharray: '13 11' })}

        <path d={smooth(goldLine) || ''} fill="none" stroke="#ffcc00" strokeWidth={3.4} />
        <path d={smooth(dottedLine) || ''} fill="none" stroke="#1a1a1a" strokeWidth={3.2} strokeLinecap="round" strokeDasharray="0 7.6" />

        {candles.map(([o, h, l, c], i) => {
          const x = xBar(i);
          const top = yPrice(Math.max(o, c));
          const bot = yPrice(Math.min(o, c));
          return (
            <g key={i}>
              <line x1={x} x2={x} y1={yPrice(h)} y2={yPrice(l)} stroke="#000" strokeWidth={1.6} />
              <rect x={x - 2.2} y={top} width={4.4} height={Math.max(bot - top, 1)} fill={c >= o ? '#00ff7f' : '#ff00ff'} stroke="#000" strokeWidth={0.7} />
            </g>
          );
        })}

        <path d={smooth(tealLine) || ''} fill="none" stroke="#2a9d9d" strokeWidth={1.2} />
        <path d={smooth(t3Line) || ''} fill="none" stroke="#1818f0" strokeWidth={2} />

        {box(28.9, 303.4, 2900.7, 2875.2, 'rgba(173,255,47,0.2)', '#9acd32')}
        {box(62.7, 258, 2824.5, 2815.6, 'rgba(173,255,47,0.2)', '#9acd32')}
        {box(242.8, 272.9, 2698.3, 2689.2, 'rgba(173,255,47,0.2)', '#9acd32')}
        {box(233, 279.6, 2655.6, 2644.7, 'rgba(0,255,255,0.12)', '#00ffff')}

        <path d={teeth(3, 130.2, 2944.2, -1)} fill="#2e8b57" />
        <path d={teeth(130.2, 259.6, 2941.8, -1)} fill="#2e8b57" />
        <path d={teeth(259.6, 302.7, 2814.8, -1)} fill="#2e8b57" />
        <path d={teeth(3, 130.2, 2873.3, 1)} fill="#dc143c" />
        <path d={teeth(130.2, 259.6, 2606.25, 1)} fill="#dc143c" />
        <path d={teeth(259.6, 302.7, 2629, 1)} fill="rgba(200,60,50,0.85)" />

        <path d={chain(3, 131.4, 2929.6, -1)} fill="#00bfff" stroke="#00bfff" strokeWidth={1} />
        <path d={chain(131.4, 258.8, 2929.6, 1)} fill="#87cefa" stroke="#87cefa" strokeWidth={1} />
        <path d={chain(3, 129.5, 2911.7, 1)} fill="#87cefa" stroke="#87cefa" strokeWidth={1} />
        <path d={chain(131.4, 260.3, 2721.3, -1)} fill="#00bfff" stroke="#00bfff" strokeWidth={1} />
        <path d={chain(260.3, 301.5, 2721.3, 1)} fill="#87cefa" stroke="#87cefa" strokeWidth={1} />
        <path d={chain(260.9, 303.2, 2763.8, -1)} fill="#00bfff" stroke="#00bfff" strokeWidth={1} />

        {ell(249.8, 2914.6, 17, 13, { fill: 'rgba(255,165,0,0.18)', stroke: '#ff8c00', strokeWidth: 2.2, strokeDasharray: '5 3' })}
        {ell(249.8, 2866.25, 17, 20.5, { fill: 'rgba(255,165,0,0.18)', stroke: '#ff8c00', strokeWidth: 2.2, strokeDasharray: '5 3' })}
        {ell(299.7, 2828.75, 20, 31, { fill: 'rgba(255,105,180,0.18)', stroke: '#ff1493', strokeWidth: 3.2, strokeDasharray: '9 5' })}
        {ell(259.7, 2775.7, 16, 28, { fill: 'rgba(255,228,200,0.45)', stroke: '#ff8c00', strokeWidth: 3.4 })}
        {ell(303.6, 2724.6, 18, 31, { fill: 'rgba(0,128,0,0.1)', stroke: '#008000', strokeWidth: 2.4, strokeDasharray: '7 3' })}
        {ell(278.4, 2716.25, 14, 17, { fill: 'rgba(0,255,255,0.5)', stroke: '#708090', strokeWidth: 3 })}
        {ell(290.5, 2619.9, 19, 26, { fill: 'rgba(0,206,209,0.5)', stroke: '#4a7a7a', strokeWidth: 3 })}
        {ell(292.9, 2584.3, 33, 22, { fill: 'rgba(255,105,180,0.15)', stroke: '#e0218a', strokeWidth: 4, strokeDasharray: '4 6' })}

        {seg(285, 2707.5, 295.3, 2588.75, { stroke: '#ffff00', strokeWidth: 4, strokeDasharray: '5 5' })}
        <polygon points={[[293.4, 2584.6], [297.9, 2586.25], [296.1, 2579.7]].map(([b, p]) => `${xBar(b)},${yPrice(p)}`).join(' ')} fill="#ffff00" />
        <path d={`M${xBar(270.5)},${yPrice(2787)}l-5,-9h3v-7h4v7h3z`} fill="#ff00ff" transform="translate(0,-4)" />
        <path d={`M${xBar(286)},${yPrice(2699)}l-5,-9h3v-7h4v7h3z`} fill="#b020c0" />
        <path d={`M${xBar(272.7)},${yPrice(2690)}l-4,8h3v8h2v-8h3z`} fill="#1e60ff" />

        {fibLabels.map(([pct, price, c, dy], i) => (
          <g key={i}>
            {pct && <Txt x={1666.5} y={yPrice(+price) + dy} s={pct} c={c} size={11.5} anchor="end" weight={500} />}
            <Txt x={1722} y={yPrice(+price) + dy} s={price} c={c} size={11.5} anchor="end" weight={500} />
          </g>
        ))}
        {notes.filter((n) => n[2] < 1240).map(([s, x, y, c, size], i) => <Txt key={i} x={x} y={y} s={s} c={c} size={size} />)}

        {/* working order */}
        <polygon points="1135.5,905 1199,905 1204,913 1199,920.5 1135.5,920.5" fill="#ff0000" stroke="#222" />
        <Txt x={1142} y={913} s="1  Sell STP" c="#fff" size={11} />
        <rect x={1206.8} y={904.5} width={64.6} height={16.5} fill="#000" />
        <Txt x={1239} y={913} s="$3,712.50" c="#00c800" size={11} anchor="middle" />
        <rect x={1271.4} y={904.5} width={17} height={16.5} fill="#00c800" stroke="#111" />
        <Txt x={1280} y={913} s="1" c="#000" size={11} anchor="middle" />
        <line x1={1288} x2={1698} y1={yPrice(2591.75)} y2={yPrice(2591.75)} stroke="#ff0000" strokeWidth={2.6} />
        <rect x={1698} y={905} width={16} height={16} fill="#fff" stroke="#111" />
        <path d="M1701,908L1711,918M1711,908L1701,918" stroke="#000" strokeWidth={3} />
      </g>

      {/* RSI */}
      <line x1={0} x2={PANEL_R} y1={yRsi(70)} y2={yRsi(70)} stroke="#ff6347" strokeWidth={2.5} strokeDasharray="3 3" />
      <line x1={0} x2={PANEL_R} y1={yRsi(30)} y2={yRsi(30)} stroke="#9acd32" strokeWidth={2.5} strokeDasharray="3 3" />
      <path d={rsiPath(rsiValues) || ''} fill="none" stroke="#1e90ff" strokeWidth={2.2} />
      <path d={rsiPath(rsiSignal) || ''} fill="none" stroke="#daa520" strokeWidth={1} />
      <line x1={1400.5} y1={1325} x2={1445.8} y2={1396.7} stroke="#00ffff" strokeWidth={3.4} strokeDasharray="3 3" />
      <polygon points="1448.6,1389.3 1432.7,1399.3 1445.8,1402.7" fill="#00ffff" />
      <line x1={1497.9} y1={1556.7} x2={1607} y2={1513.3} stroke="#00ffff" strokeWidth={3.4} strokeDasharray="3 3" />
      <polygon points="1595.8,1508.3 1610,1513.3 1602.6,1525" fill="#00ffff" />

      {/* swing oscillator */}
      {swingValues.map((v, i) => (
        <rect key={i} x={xBar(i) - 1.05} y={ySwing(Math.abs(v))} width={2.1} height={ySwing(0) - ySwing(Math.abs(v))} fill={v >= 0 ? '#00ff00' : '#ff0000'} />
      ))}
      <line x1={0} x2={PANEL_R} y1={ySwing(9.7)} y2={ySwing(9.7)} stroke="#00ffff" strokeWidth={2.4} />
      <line x1={0} x2={PANEL_R} y1={ySwing(6.15)} y2={ySwing(6.15)} stroke="#00ffff" strokeWidth={2.4} />
      <path d={`M${xBar(297.5)},${ySwing(0.97)}H${xBar(298.4)}V${ySwing(1.62)}L${xBar(299.9)},${ySwing(1.68)}L${xBar(301.5)},${ySwing(1.74)}`} fill="none" stroke="#ff0000" strokeWidth={2.5} />
      {notes.filter((n) => n[2] >= 1240).map(([s, x, y, c, size], i) => <Txt key={i} x={x} y={y} s={s} c={c} size={size} />)}
      <Txt x={1541.5} y={1922.5} s="WlyOpEx" size={12.5} weight={700} />
      <Txt x={1541.5} y={1939} s="2650>2650<2750" size={12.5} weight={700} />

      {/* pane frames */}
      <rect x={0} y={1244} width={1776} height={3} fill="#000" />
      <rect x={0} y={1621.5} width={1776} height={3} fill="#000" />
      <rect x={0} y={2010.4} width={AXIS_X} height={1.4} fill="#000" />
      <rect x={AXIS_X - 0.6} y={0} width={1.2} height={2011} fill="#000" />

      {/* right axes */}
      {priceTicks.map((t) => (
        <g key={t}>
          <line x1={AXIS_X} x2={AXIS_X + 6} y1={yPrice(t)} y2={yPrice(t)} stroke="#000" />
          <Txt x={1734} y={yPrice(t)} s={t.toFixed(2)} size={11} spacing={-0.2} />
        </g>
      ))}
      {priceFlags.map(([p, fill, color]) => <Flag key={p} y={yPrice(p)} text={p.toFixed(2)} fill={fill} color={color} />)}

      {[100, 95, ...rsiTicks, 10].map((t) => <line key={t} x1={AXIS_X} x2={AXIS_X + 6} y1={yRsi(t)} y2={yRsi(t)} stroke="#000" />)}
      {rsiTicks.map((t) => <Txt key={t} x={1734} y={yRsi(t)} s={t} size={11} />)}
      <Flag y={yRsi(48.9)} text="48.87" fill="#1e90ff" color="#fff" />
      <Flag y={yRsi(47.14)} text="47.14" fill="#daa520" color="#000" />

      {swingTicks.map((t) => (
        <g key={t}>
          <line x1={AXIS_X} x2={AXIS_X + 6} y1={ySwing(t)} y2={ySwing(t)} stroke="#000" />
          <Txt x={1734} y={ySwing(t)} s={t === 0 ? '0' : t >= 10 ? `${t}M` : `${t}000K`} size={11} spacing={-0.1} />
        </g>
      ))}
      <Flag y={ySwing(2.862)} text="2862K" fill="#00ff00" color="#000" />
      <Flag y={ySwing(1.722)} text="1722K" fill="#ff0000" color="#fff" />

      {/* date axis */}
      {dateBars.map((b, i) => (
        <g key={b}>
          <line x1={xBar(b)} x2={xBar(b)} y1={2011} y2={2017} stroke="#000" />
          <Txt x={xBar(b)} y={2029} s={dateLabels[i]} size={11.5} anchor="middle" />
        </g>
      ))}

      {/* toolbars */}
      <rect x={0} y={30} width={30} height={826} fill="#f2f2f2" />
      {toolRows.map((_, i) => <line key={i} x1={4} x2={22} y1={58.5 + i * 27} y2={58.5 + i * 27} stroke="#333" />)}
      {toolRows.map((k, i) => <Tool key={i} kind={k} y={72 + i * 27} />)}
      <rect x={33} y={33} width={838} height={22} fill="#f2f2f2" />
      <path d="M7,37L16,50M9,36L18,49" stroke="#c98a2e" strokeWidth={2.5} />
      <circle cx={46} cy={44} r={8} fill="#fff" stroke="#2e9e2e" strokeWidth={3} />
      <path d="M46,40V48M42,44H50" stroke="#2e9e2e" strokeWidth={3} />
      <rect x={145.5} y={35} width={19} height={19} fill="#777" />
      {swatches.map((c, i) => <rect key={c} x={66.6 + i * 27} y={37.5} width={14} height={13.5} fill={c} stroke="#999" strokeWidth={0.4} />)}
      {swatches.map((_, i) => <line key={i} x1={60 + i * 27} x2={60 + i * 27} y1={36} y2={53} stroke="#bbb" />)}
      <rect x={631} y={34} width={20} height={20} fill="#666" />
      {['1', '2', '3', '4'].map((s, i) => <Txt key={s} x={560 + i * 27} y={44.5} s={s} size={12} anchor="middle" />)}
      <path d="M660,44H677" stroke="#000" strokeWidth={2.4} />
      <path d="M687,44H704" stroke="#000" strokeWidth={2.4} strokeDasharray="7 3" />
      <path d="M714,44H731" stroke="#000" strokeWidth={2.4} strokeDasharray="6 2 2 2" />
      <path d="M741,44H758" stroke="#000" strokeWidth={2.4} strokeDasharray="4 2 2 2" />
      <rect x={766} y={34} width={20} height={20} fill="#666" />
      <path d="M768,44H784" stroke="#000" strokeWidth={2.4} strokeDasharray="2 1.5" />
      <rect x={796} y={41.5} width={69} height={5} fill="#c8c8c8" />
      <rect x={801} y={35} width={7} height={17} fill="#e0e0e0" stroke="#aaa" />

      {/* titles */}
      <Txt x={5} y={11} s="HTColorStyleBar(), HTDrawBar(), T3(ES 03-19 (240 Minute),14" size={10.7} />
      <rect x={300} y={0} width={60} height={16} fill="#ffd700" />
      <Txt x={303} y={8.5} s="PriorMonth" size={10.5} />
      <Txt x={5} y={28} s="10/2/2018 06:00:00 - 12/12/2018 06:00:00" size={10.5} />
      <Txt x={5} y={1258} s="RSI(ES 03-19 (240 Minute),14,3)" size={10.5} />
      <Txt x={5} y={1635} s="PriceActionSwingOscillator(ES 03-19 (240 Minute), Standard, 7, 20)" size={10.5} />
      <Txt x={5} y={1997} s="© 2018 NinjaTrader, LLC" size={11} />
      <Txt x={3} y={2048} s="ES 03-19" size={9.5} />

      {/* replay and F buttons */}
      <rect x={1692} y={11} width={4} height={22} fill="#000" />
      <polygon points="1697,22 1708,11 1708,33" fill="#000" />
      {[2, 1250].map((y) => (
        <g key={y}>
          <rect x={1757} y={y} width={17} height={18} fill="#6e6e6e" stroke="#bbb" />
          <Txt x={1765.5} y={y + 9} s="F" c="#ddd" size={13} anchor="middle" />
        </g>
      ))}

      {/* logo */}
      <circle cx={1622} cy={2049} r={7} fill="none" stroke="#8a3030" strokeWidth={1.5} />
      <text x={1634} y={2054.5} fontSize={15} fontFamily={FONT} letterSpacing={2.7}>
        <tspan fill="#9a9a9a" fontWeight={300}>NINJA</tspan><tspan fill="#8a3030">TRADER</tspan><tspan fill="#8a3030" fontSize={8} dy={-5}>®</tspan>
      </text>
    </svg>
  );
}
